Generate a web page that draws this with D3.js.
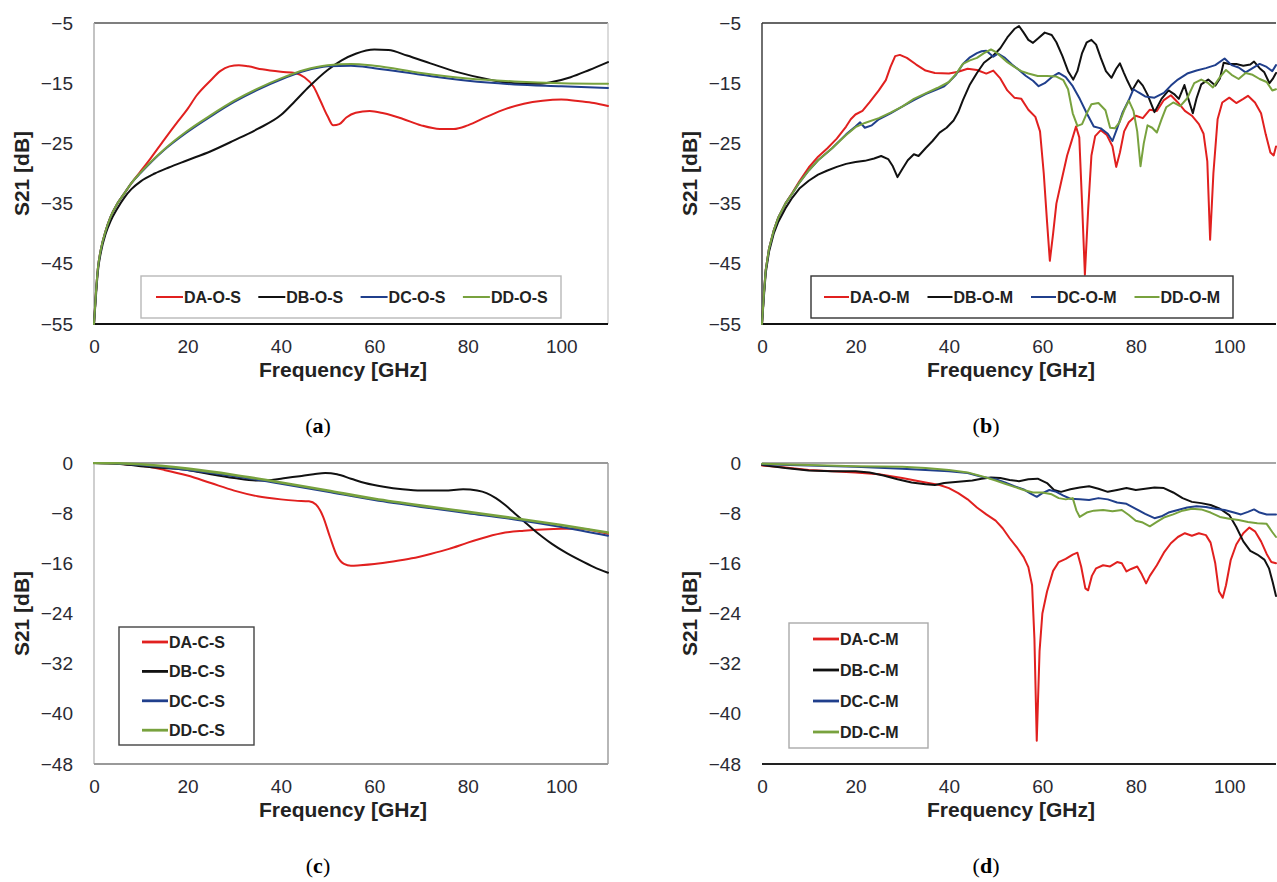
<!DOCTYPE html>
<html>
<head>
<meta charset="utf-8">
<script src="https://cdn.jsdelivr.net/npm/d3@7"></script>
<style>
  html, body { margin: 0; padding: 0; background: #fff; }
  svg { display: block; }
</style>
</head>
<body>
<svg id="chart" width="1277" height="882"></svg>
<script>
// ---------------- DATA ----------------
const xTicks = [0, 20, 40, 60, 80, 100];
const yTicksOpen = [-55, -45, -35, -25, -15, -5];
const yTicksClosed = [-48, -40, -32, -24, -16, -8, 0];

const namesA = ["DA-O-S", "DB-O-S", "DC-O-S", "DD-O-S"];
const namesB = ["DA-O-M", "DB-O-M", "DC-O-M", "DD-O-M"];
const namesC = ["DA-C-S", "DB-C-S", "DC-C-S", "DD-C-S"];
const namesD = ["DA-C-M", "DB-C-M", "DC-C-M", "DD-C-M"];

// (a) open, simulated
const DA_O_S = [[0,-55],[0.4,-50],[0.8,-46],[1.5,-42.5],[2.5,-39.5],[3.5,-37.3],[5,-35],[6.5,-33.3],[8,-31.6],[10,-29.6],[12,-27.6],[15,-24.4],[18,-21.3],[20,-19.3],[22,-17],[25,-14.5],[27,-13],[29,-12.2],[31,-12],[33,-12.2],[36,-12.7],[40,-13.1],[43,-13.3],[45,-14],[47,-15.6],[48.5,-18],[50,-20.5],[51.2,-22],[52.5,-21.8],[54,-20.7],[56,-19.9],[59,-19.6],[62,-20],[66,-20.9],[70,-22],[74,-22.6],[77,-22.6],[80,-22],[84,-20.6],[88,-19.3],[92,-18.4],[96,-17.9],[100,-17.7],[104,-18],[107,-18.3],[110,-18.8]];
const DB_O_S = [[0,-55],[0.4,-50.5],[0.8,-46.5],[1.5,-43],[2.5,-40],[3.5,-38],[5,-35.8],[6.5,-34],[8,-32.6],[10,-31.3],[13,-30],[16,-29],[20,-27.8],[25,-26.3],[30,-24.5],[35,-22.6],[40,-20.3],[43,-18],[46,-15.6],[50,-12.8],[53,-11.2],[56,-10.1],[60,-9.4],[63,-9.5],[67,-10.4],[72,-11.7],[78,-13.2],[84,-14.3],[90,-15],[95,-15.1],[98,-14.8],[102,-14],[106,-12.8],[110,-11.5]];
const DC_O_S = [[0,-55],[0.4,-50],[0.8,-46],[1.5,-42.5],[2.5,-39.5],[3.5,-37.3],[5,-35],[6.5,-33.3],[8,-31.6],[10,-29.9],[15,-26.1],[20,-23.1],[25,-20.5],[30,-18.1],[35,-16.1],[40,-14.4],[45,-13],[50,-12.2],[55,-12.1],[60,-12.5],[70,-13.6],[80,-14.6],[90,-15.2],[100,-15.5],[110,-15.8]];
const DD_O_S = [[0,-55],[0.4,-50],[0.8,-46],[1.5,-42.5],[2.5,-39.5],[3.5,-37.3],[5,-35],[6.5,-33.3],[8,-31.6],[10,-29.8],[15,-26],[20,-22.9],[25,-20.3],[30,-17.9],[35,-15.9],[40,-14.2],[45,-12.8],[50,-12],[55,-11.8],[60,-12.1],[70,-13.3],[80,-14.2],[90,-14.7],[100,-15],[110,-15.1]];

// (b) open, measured
const DA_O_M = [[0,-55],[0.4,-50],[0.8,-46],[1.5,-42.5],[2.5,-39.5],[3.5,-37.3],[5,-35],[6.5,-33.2],[8,-31.3],[10,-29],[12,-27.2],[14,-25.8],[16,-24.2],[18,-22.2],[19,-21],[20,-20.2],[21.5,-19.6],[23,-18.2],[25,-16.2],[26.5,-14.5],[27.5,-12.3],[28.5,-10.5],[29.5,-10.3],[31,-10.8],[33,-11.9],[35,-12.9],[37,-13.3],[40,-13.4],[42,-13.1],[44,-12.6],[46,-12.8],[48,-13.4],[49.5,-12.9],[51,-14.2],[52.5,-16.2],[54,-17.4],[55.5,-17.6],[57,-19.4],[58.5,-20.6],[59.5,-23],[60.3,-30],[61,-38],[61.6,-44.5],[62.3,-40],[63,-35],[64,-31.5],[65.3,-27],[66.3,-24.5],[67.2,-22.2],[67.9,-24],[68.5,-35],[69.1,-46.8],[69.8,-36],[70.5,-27],[71.3,-23.8],[72.5,-22.8],[73.8,-23.6],[75,-25.5],[75.8,-28.9],[76.6,-26.5],[77.5,-23],[78.5,-21.5],[80,-20.4],[81.5,-20.8],[83,-19.4],[84.5,-19.6],[86,-17.8],[87.5,-17],[89,-18.2],[90.5,-19.6],[92,-20.4],[93.5,-21.8],[94.5,-23.4],[95.3,-28],[95.9,-41],[96.6,-30],[97.5,-21],[98.5,-18.2],[100,-17.4],[101.5,-18.3],[103,-17.6],[104,-17.1],[105.5,-18.2],[106.8,-20],[107.8,-23.5],[108.8,-26.5],[109.5,-27],[110,-25.5]];
const DB_O_M = [[0,-55],[0.4,-50.5],[0.8,-46.5],[1.5,-43],[2.5,-40],[3.5,-38],[5,-35.8],[6.5,-34],[8,-32.5],[10,-31.2],[12,-30.2],[14,-29.5],[16,-28.9],[18,-28.4],[20,-28.1],[22,-27.9],[24,-27.5],[25.5,-27.1],[27,-27.6],[28,-28.8],[29,-30.6],[30,-29.3],[31.2,-27.8],[32.5,-26.8],[33.5,-27.1],[35,-25.8],[36.5,-24.6],[38,-23.2],[39.5,-22.4],[41,-21.2],[42,-19.8],[43,-17.8],[44.5,-15.2],[46,-13.3],[47.5,-11.6],[49.5,-10.4],[51,-9.2],[52.5,-7.4],[54,-6],[55,-5.5],[56,-6.6],[57,-7.8],[58,-8.3],[59,-7.6],[60.5,-6.6],[62,-7],[63,-8.2],[64.3,-10.5],[65.5,-13],[66.6,-14.4],[67.5,-13],[68.5,-10],[69.5,-8.2],[70.5,-7.8],[71.5,-8.6],[72.5,-10.8],[73.6,-13],[74.8,-14.1],[75.8,-12.6],[76.6,-11.7],[77.4,-13.2],[78.2,-14.6],[79.2,-16.2],[80.5,-14.5],[81.5,-15.4],[82.5,-16.9],[84,-19.8],[85.5,-17.6],[87,-16.2],[88.2,-16.8],[89.2,-17.6],[90.4,-15.3],[91.4,-18],[92.2,-20],[93,-17.5],[94,-15.2],[95.5,-14.4],[97,-15.4],[98,-14.2],[98.8,-11.6],[100,-11.8],[101.5,-11.8],[103,-12.1],[104.5,-11.9],[105.3,-11.4],[106.5,-12.5],[107.5,-13.2],[108.6,-15],[109.3,-14.3],[110,-13.3]];
const DC_O_M = [[0,-55],[0.4,-50],[0.8,-46],[1.5,-42.5],[2.5,-39.5],[3.5,-37.3],[5,-35],[6.5,-33.3],[8,-31.5],[10,-29.5],[12,-27.8],[15,-25.8],[18,-23.5],[20,-22.2],[21,-21.5],[22,-22.4],[23.5,-22],[25,-21],[27.5,-20],[30,-18.9],[32.5,-17.8],[35,-16.8],[37.5,-16],[39,-15.5],[40,-14.8],[41.5,-13.6],[43,-11.8],[44.5,-10.7],[46,-10],[47,-9.7],[48,-9.6],[49.5,-10.6],[50.5,-10.1],[52,-10.8],[53.5,-11.9],[55,-12.8],[56.5,-13.8],[58,-14.6],[59.2,-15.5],[60.5,-15],[62,-14],[63.5,-13.3],[65,-14],[66.5,-15.5],[68,-17.6],[69.5,-20],[71,-22.2],[72.5,-22.5],[74,-23.4],[75,-24.6],[76,-22.5],[77.2,-19.8],[78.5,-17.8],[79.5,-16],[80.5,-16.5],[82,-17.2],[84,-17.4],[86,-16.6],[87.5,-15.4],[89,-14.4],[91,-13.4],[93,-12.9],[95,-12.5],[97,-12],[99,-10.9],[100.5,-12],[102,-12.4],[103.5,-13.2],[105,-12.5],[106.5,-11.8],[108,-12.3],[109.2,-13],[110,-12]];
const DD_O_M = [[0,-55],[0.4,-50],[0.8,-46],[1.5,-42.5],[2.5,-39.5],[3.5,-37.3],[5,-35],[6.5,-33.3],[8,-31.5],[10,-29.5],[12,-27.8],[15,-25.8],[18,-23.6],[20,-22.3],[22,-21.6],[25,-20.8],[27.5,-19.9],[30,-18.9],[32.5,-17.6],[35,-16.7],[37.5,-15.8],[40,-14.8],[41.5,-13.5],[43,-11.8],[44.5,-11.2],[46,-10.8],[47.5,-10],[49,-9.4],[50,-9.8],[51,-10.5],[52.5,-11.5],[54,-12.3],[55.5,-13],[57,-13.4],[59,-13.8],[61,-13.8],[63,-13.9],[64.5,-14.5],[65.5,-16],[66.5,-20],[67.5,-22.1],[68.5,-21.8],[69.5,-20],[70.5,-18.5],[72,-18.3],[73.5,-19.5],[74.5,-22.4],[75.5,-22.5],[76.5,-21.5],[77.5,-19.5],[78.5,-17.9],[79.5,-19.6],[80.3,-23],[81,-28.8],[81.7,-25],[82.5,-22],[83.5,-22.4],[84.5,-23.2],[85.5,-21],[86.5,-19],[88,-18.2],[89.5,-18.8],[91,-17.5],[92.5,-15],[94,-14.4],[95.5,-15],[96.5,-15.7],[98,-14],[99.3,-12.8],[100.5,-13.6],[102,-14.3],[103.5,-13.3],[105,-13.6],[106.5,-14.3],[108,-14.8],[109.2,-16.2],[110,-16]];

// (c) closed, simulated
const DA_C_S = [[0,0],[5,-0.1],[10,-0.4],[15,-1.1],[20,-2],[25,-3.2],[30,-4.4],[35,-5.3],[40,-5.8],[43,-6],[46,-6.1],[47.5,-6.6],[49,-8.5],[50.5,-11.8],[52,-14.8],[53.5,-16.1],[55,-16.4],[57,-16.3],[60,-16.1],[64,-15.7],[68,-15.2],[72,-14.5],[76,-13.7],[80,-12.7],[84,-11.8],[88,-11.1],[92,-10.8],[96,-10.6],[100,-10.5],[104,-10.5],[107,-10.8],[110,-11.3]];
const DB_C_S = [[0,0],[5,-0.1],[10,-0.5],[15,-0.8],[20,-1.1],[25,-1.8],[30,-2.4],[35,-2.8],[38,-2.7],[41,-2.4],[44,-2.1],[47,-1.8],[49.5,-1.6],[52,-1.8],[55,-2.5],[58,-3.2],[62,-3.8],[66,-4.2],[70,-4.4],[75,-4.4],[79,-4.2],[82,-4.4],[84,-4.8],[86,-5.6],[88,-6.7],[90,-8],[92,-9.3],[94,-10.6],[96,-11.8],[98,-12.9],[101,-14.3],[104,-15.5],[107,-16.6],[110,-17.5]];
const DC_C_S = [[0,0],[5,-0.1],[10,-0.3],[20,-1.1],[30,-2.1],[40,-3.3],[50,-4.6],[60,-5.9],[70,-7],[80,-8],[90,-9],[100,-10.2],[110,-11.6]];
const DD_C_S = [[0,0],[5,-0.05],[10,-0.2],[20,-0.9],[30,-1.9],[40,-3.1],[50,-4.4],[60,-5.7],[70,-6.8],[80,-7.8],[90,-8.8],[100,-9.9],[110,-11.1]];

// (d) closed, measured
const DA_C_M = [[0,-0.4],[5,-0.7],[10,-1.1],[15,-1.3],[20,-1.5],[25,-1.8],[30,-2.4],[35,-3.1],[38,-3.5],[40,-4],[42,-4.8],[44,-5.8],[46,-7.1],[48,-8.2],[50,-9.2],[51.5,-10.4],[53,-12],[54.5,-13.4],[56,-15],[57,-16.6],[57.8,-19.5],[58.3,-28],[58.8,-44.3],[59.4,-30],[60,-24],[61,-20.5],[62.3,-17.2],[63.5,-15.8],[65,-15.3],[66.5,-14.6],[67.5,-14.3],[68.3,-16.5],[69.2,-20],[69.8,-20.3],[70.6,-18],[71.5,-16.8],[73,-16.3],[74.5,-16.5],[76,-15.8],[77,-16],[78,-17.3],[79,-16.9],[80.3,-16.5],[81.3,-17.8],[82.2,-19.2],[83,-18],[84.5,-16.3],[86,-14.3],[87.5,-12.8],[89,-11.8],[90.5,-11.2],[92,-11.6],[93.5,-11.2],[95,-11.5],[96,-12.7],[97,-16],[97.8,-20.5],[98.6,-21.5],[99.3,-19.5],[100.3,-15.5],[101.5,-13],[103,-11.2],[104.3,-10.3],[105.5,-10.9],[106.8,-12.5],[108,-14.5],[109,-15.8],[110,-16]];
const DB_C_M = [[0,-0.3],[5,-0.8],[10,-1.2],[15,-1.3],[20,-1.3],[23,-1.5],[26,-2],[29,-2.6],[32,-3.1],[35,-3.4],[37,-3.5],[39,-3.2],[42,-3],[45,-2.8],[47,-2.5],[49,-2.3],[51,-2.4],[53,-2.7],[55,-2.9],[57,-2.6],[59,-2.5],[61,-3.2],[62.5,-4.3],[64,-4.6],[66,-4.2],[68,-3.9],[70,-3.7],[72,-4.1],[74,-4.6],[76,-4.3],[78,-4],[80,-4.3],[82,-4.1],[84,-3.9],[86,-4],[88,-4.7],[90,-5.6],[92,-6.2],[94,-6.4],[96,-6.7],[98,-7.3],[100,-8.3],[101.5,-10.2],[103,-12.5],[104.5,-14],[106,-14.6],[107.5,-15.4],[108.5,-16.8],[109.3,-19],[110,-21.2]];
const DC_C_M = [[0,-0.2],[10,-0.4],[20,-0.6],[30,-0.9],[35,-1.1],[40,-1.3],[44,-1.6],[47,-2.2],[50,-2.6],[52,-3.1],[54,-3.7],[56,-4.2],[57.5,-4.9],[58.8,-5.4],[60,-4.8],[61.5,-4.3],[63,-4.6],[64.5,-5.2],[66,-5.7],[68,-5.8],[70,-5.9],[72,-5.6],[74,-5.8],[76,-6.3],[78,-6.5],[80,-7.3],[82,-8.1],[84,-8.8],[85.5,-8.5],[87,-7.9],[89,-7.5],[91,-7.1],[93,-6.9],[95,-7],[97,-7.3],[99,-7.5],[101,-7.9],[102.5,-8.2],[104,-7.8],[105.3,-7.4],[106.5,-7.9],[108,-8.2],[110,-8.2]];
const DD_C_M = [[0,-0.1],[10,-0.3],[20,-0.5],[30,-0.6],[35,-0.8],[40,-1.1],[44,-1.5],[47,-2.1],[50,-2.8],[52,-3.3],[54,-3.8],[56,-4.3],[58,-4.7],[60,-4.7],[62,-5],[63.5,-5.6],[65,-5.8],[66.5,-5.6],[67.3,-7.6],[68,-8.6],[69.5,-7.9],[71,-7.6],[73,-7.5],[75,-7.7],[77,-7.5],[78.5,-8.3],[80,-9.2],[81.5,-9.5],[83,-10.1],[84.5,-9.4],[86,-8.7],[88,-8.2],[90,-7.6],[92,-7.3],[94,-7.4],[96,-7.9],[98,-8.6],[100,-8.9],[102,-9.1],[104,-9.4],[106,-9.6],[108,-9.7],[109.2,-11],[110,-11.8]];

// ---------------- STYLE / LAYOUT ----------------
const colors = ["#e1201f", "#111111", "#203f8c", "#78a23e"];
const FONT = "'Liberation Sans', Arial, Helvetica, sans-serif";
const SERIF = "'Liberation Serif', 'DejaVu Serif', serif";

const panels = [
  { tag: "a", left: 94, top: 23, w: 514, h: 301, yDomain: [-55, -5], yTicks: yTicksOpen,
    names: namesA, data: [DA_O_S, DB_O_S, DC_O_S, DD_O_S], smooth: true,
    frame: { top: "#555", left: "#aaa", right: "#ccc", bottom: "#111" },
    legend: { type: "row", x: 141, y: 276, w: 420, h: 42, border: "#b8b8b8", x0: 156, step: 102.3, line: 27 } },
  { tag: "b", left: 762, top: 23, w: 514, h: 301, yDomain: [-55, -5], yTicks: yTicksOpen,
    names: namesB, data: [DA_O_M, DB_O_M, DC_O_M, DD_O_M], smooth: false,
    frame: { top: "#333", left: "#333", right: null, bottom: "#111" },
    legend: { type: "row", x: 811, y: 276, w: 422, h: 42, border: "#333", x0: 824, step: 103.5, line: 25 } },
  { tag: "c", left: 94, top: 463, w: 514, h: 301, yDomain: [-48, 0], yTicks: yTicksClosed,
    names: namesC, data: [DA_C_S, DB_C_S, DC_C_S, DD_C_S], smooth: true,
    frame: { top: "#777", left: "#bbb", right: "#999", bottom: "#999" },
    legend: { type: "col", x: 119, y: 627, w: 135, h: 118, border: "#444", lx: 142, line: 26, y0: 642, step: 29.4 } },
  { tag: "d", left: 762, top: 463, w: 514, h: 301, yDomain: [-48, 0], yTicks: yTicksClosed,
    names: namesD, data: [DA_C_M, DB_C_M, DC_C_M, DD_C_M], smooth: false,
    frame: { top: "#888", left: null, right: null, bottom: "#222" },
    legend: { type: "col", x: 789, y: 623, w: 139, h: 125, border: "#aaa", lx: 813, line: 26, y0: 639, step: 31 } }
];

const svg = d3.select("#chart");
const fmt = v => (v < 0 ? "\u2212" + Math.abs(v) : String(v));

panels.forEach((p, pi) => {
  const x = d3.scaleLinear().domain([0, 110]).range([p.left, p.left + p.w]);
  const y = d3.scaleLinear().domain(p.yDomain).range([p.top + p.h, p.top]);
  const g = svg.append("g");

  const clipId = "clip" + pi;
  svg.append("clipPath").attr("id", clipId).append("rect")
    .attr("x", p.left - 1).attr("y", p.top - 1).attr("width", p.w + 2).attr("height", p.h + 2);

  const L = p.left, R = p.left + p.w, T = p.top, B = p.top + p.h;
  const edges = [
    ["top", L, T, R, T, 1.6], ["left", L, T, L, B, 1.4],
    ["right", R, T, R, B, 1.4], ["bottom", L, B, R, B, 2.2]
  ];
  edges.forEach(([k, x1, y1, x2, y2, sw]) => {
    if (p.frame[k]) g.append("line").attr("x1", x1).attr("y1", y1).attr("x2", x2).attr("y2", y2)
      .attr("stroke", p.frame[k]).attr("stroke-width", sw);
  });

  const yAxis = d3.axisLeft(y).tickValues(p.yTicks).tickSize(0).tickPadding(21).tickFormat(fmt);
  const ya = g.append("g").attr("transform", `translate(${p.left},0)`).call(yAxis);
  const xAxis = d3.axisBottom(x).tickValues(xTicks).tickSize(0).tickPadding(16).tickFormat(d3.format("d"));
  const xa = g.append("g").attr("transform", `translate(0,${B})`).call(xAxis);
  [ya, xa].forEach(a => {
    a.select(".domain").remove();
    a.selectAll("text").attr("font-family", FONT).attr("font-size", 19).attr("fill", "#2a2a33");
  });

  g.append("text").attr("x", (L + R) / 2 - 8).attr("y", B + 53)
    .attr("text-anchor", "middle").attr("font-family", FONT).attr("font-weight", "bold")
    .attr("font-size", 21).attr("fill", "#222").text("Frequency [GHz]");
  g.append("text").attr("transform", `translate(${L - 65},${(T + B) / 2}) rotate(-90)`)
    .attr("text-anchor", "middle").attr("font-family", FONT).attr("font-weight", "bold")
    .attr("font-size", 21).attr("fill", "#222").text("S21 [dB]");

  const sub = g.append("text").attr("x", (L + R) / 2 - 33).attr("y", T + 410)
    .attr("text-anchor", "middle").attr("font-family", SERIF).attr("font-size", 22).attr("fill", "#000");
  sub.append("tspan").text("(");
  sub.append("tspan").attr("font-weight", "bold").text(p.tag);
  sub.append("tspan").text(")");

  const line = d3.line().x(d => x(d[0])).y(d => y(d[1]))
    .curve(p.smooth ? d3.curveMonotoneX : d3.curveLinear);
  const lg = g.append("g").attr("clip-path", `url(#${clipId})`);
  p.data.forEach((s, i) => {
    lg.append("path").datum(s).attr("d", line).attr("fill", "none")
      .attr("stroke", colors[i]).attr("stroke-width", i === 3 && p.tag === "c" ? 2.6 : 2)
      .attr("stroke-linejoin", "round").attr("stroke-linecap", "round");
  });

  const lgd = p.legend;
  const leg = g.append("g");
  leg.append("rect").attr("x", lgd.x).attr("y", lgd.y).attr("width", lgd.w).attr("height", lgd.h)
    .attr("fill", "#fff").attr("stroke", lgd.border).attr("stroke-width", 1.4);
  p.names.forEach((n, i) => {
    let lx, ly;
    if (lgd.type === "row") { lx = lgd.x0 + i * lgd.step; ly = lgd.y + lgd.h / 2; }
    else { lx = lgd.lx; ly = lgd.y0 + i * lgd.step; }
    leg.append("line").attr("x1", lx).attr("x2", lx + lgd.line).attr("y1", ly).attr("y2", ly)
      .attr("stroke", colors[i]).attr("stroke-width", lgd.type === "col" ? 2.8 : 2);
    leg.append("text").attr("x", lx + lgd.line + 1).attr("y", ly).attr("dy", "0.36em")
      .attr("font-family", FONT).attr("font-weight", "bold").attr("font-size", 16)
      .attr("fill", "#222").text(n);
  });
});
</script>
</body>
</html>
